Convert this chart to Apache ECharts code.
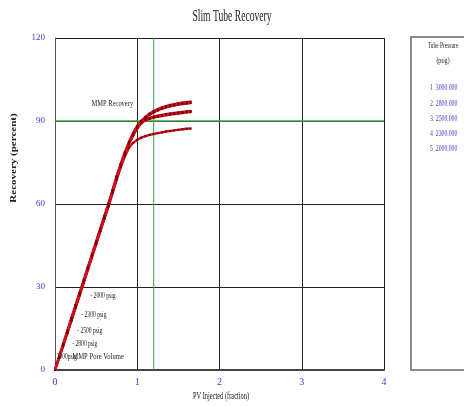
<!DOCTYPE html>
<html>
<head>
<meta charset="utf-8">
<script src="https://cdn.jsdelivr.net/npm/echarts@6/dist/echarts.min.js"></script>
<style>html,body{margin:0;padding:0;background:#fff}#c{width:464px;height:406px}</style>
</head>
<body>
<div id="c"></div>
<script>
// ---------- data ----------
var pvInjected = [0,0.05,0.1,0.15,0.2,0.25,0.3,0.35,0.4,0.45,0.5,0.55,0.6,0.65,0.7,0.75,0.8,0.85,0.9,0.95,1.0,1.05,1.1,1.15,1.2,1.25,1.3,1.35,1.4,1.45,1.5,1.55,1.6,1.65];
var rec3000 = [0,4.8,9.5,14.2,18.9,23.5,28.1,32.7,37.3,41.9,46.5,51.1,55.7,60.2,65.1,70.1,74.7,78.8,82.5,85.7,88.3,90.1,91.5,92.7,93.6,94.3,94.9,95.4,95.8,96.1,96.4,96.6,96.8,97.0];
var rec2800 = [0,4.7,9.3,13.9,18.5,23.1,27.7,32.3,36.9,41.5,46.1,50.7,55.3,59.8,64.8,69.8,74.4,78.5,82.2,85.4,88.0,89.8,91.2,92.3,93.1,93.8,94.4,94.9,95.3,95.6,95.9,96.1,96.3,96.5];
var rec2500 = [0,4.6,9.1,13.7,18.3,22.9,27.5,32.1,36.7,41.3,45.9,50.5,55.1,59.6,64.6,69.5,74.1,78.2,81.9,85.1,87.7,89.5,90.7,91.2,91.6,91.9,92.2,92.5,92.7,92.9,93.1,93.3,93.5,93.6];
var rec2300 = [0,4.4,8.9,13.4,18.0,22.6,27.2,31.8,36.4,41.0,45.6,50.2,54.8,59.3,64.3,69.2,73.8,77.9,81.6,84.7,87.3,89.2,90.3,90.8,91.2,91.5,91.8,92.1,92.3,92.5,92.7,92.9,93.1,93.2];
var rec2000 = [0,4.3,8.7,13.2,17.8,22.4,27.0,31.6,36.2,40.8,45.4,50.0,54.6,59.0,63.9,68.7,73.3,77.2,80.3,82.1,83.2,84.0,84.5,85.0,85.3,85.6,85.9,86.2,86.4,86.6,86.8,87.0,87.2,87.3];
var pressures = ['3000.000','2800.000','2500.000','2300.000','2000.000'];
var seriesNames = ['3000 psig','2800 psig','2500 psig','2300 psig','2000 psig'];
var xTicks = [0,1,2,3,4];
var yTicks = [0,30,60,90,120];
var mmpPV = 1.2;
var mmpRecovery = 90;
// curve annotation anchors (data coords: left edge of text)
var curveLabelText = ['- 2000 psig','- 2300 psig','- 2500 psig','- 2800 psig','3000psig'];
var curveLabelPos = [[0.43,26.7],[0.32,19.9],[0.27,14.1],[0.21,9.4],[0.02,4.7]];
var mmpPoreLabelPos = [0.21,4.9];
var mmpRecLabelPos = [0.95,96.2];

// ---------- chart ----------
var chart = echarts.init(document.getElementById('c'), null, {renderer:'canvas'});
var serif = 'Liberation Serif';
var recSets = [rec3000, rec2800, rec2500, rec2300, rec2000];
var xMin = 0, xMax = 4, yMin = 0, yMax = 120;
function pairs(ys){ return pvInjected.map(function(x,i){return [x, ys[i]];}); }

var green = '#3aa03a';
var series = [
  {name: 'MMP Pore Volume', type: 'line', data: [[mmpPV, yMin], [mmpPV, yMax]], symbol: 'none', silent: true, z: 2,
   lineStyle: {color: green, width: 1}, itemStyle: {color: green}},
  {name: 'MMP Recovery', type: 'line', data: [[xMin, mmpRecovery], [xMax, mmpRecovery]], symbol: 'none', silent: true, z: 2,
   lineStyle: {color: green, width: 1.6}, itemStyle: {color: green}}
];
recSets.forEach(function(ys, i){
  series.push({
    name: seriesNames[i], type: 'line', data: pairs(ys),
    symbol: 'rect', symbolSize: 2, showSymbol: true,
    lineStyle: {color: '#cc1020', width: 2.4},
    itemStyle: {color: '#7a0000'},
    z: 3
  });
});

chart.setOption({
  animation: false,
  backgroundColor: '#fff',
  grid: {left: 55, right: 80, top: 38, bottom: 36, containLabel: false},
  xAxis: {
    type: 'value', min: xMin, max: xMax, interval: 1,
    axisLine: {show: true, lineStyle: {color: '#444', width: 2}},
    axisTick: {show: false},
    splitLine: {show: true, lineStyle: {color: '#222', width: 1}},
    axisLabel: {color: '#3a3ad0', fontFamily: serif, fontSize: 10, margin: 7,
      formatter: function(v){ return xTicks.indexOf(v) >= 0 ? String(v) : ''; }}
  },
  yAxis: {
    type: 'value', min: yMin, max: yMax, interval: 30,
    axisLine: {show: true, lineStyle: {color: '#555', width: 1}},
    axisTick: {show: false},
    splitLine: {show: true, lineStyle: {color: '#222', width: 1}},
    axisLabel: {color: '#3a3ad0', fontFamily: serif, fontSize: 9, margin: 10,
      formatter: function(v){ return yTicks.indexOf(v) >= 0 ? String(v) : ''; }}
  },
  series: series
});

function px(p){ return chart.convertToPixel({gridIndex: 0}, p); }
function txt(x, y, text, o){
  o = o || {};
  return {
    type: 'text', x: x, y: y, rotation: o.rotation || 0,
    scaleX: o.sx || 1, scaleY: o.sy || 1, z: 10, silent: true,
    style: {text: text, fill: o.color || '#222', font: (o.weight || 'normal') + ' ' + (o.size || 10) + 'px "' + serif + '"',
      textAlign: o.align || 'left', textVerticalAlign: 'middle'}
  };
}

var g = [];
// title
g.push(txt(232, 17, 'Slim Tube Recovery', {size: 16, sx: 0.6, align: 'center'}));
// axis names
g.push(txt(221, 396, 'PV Injected (fraction)', {size: 10, sx: 0.64, align: 'center'}));
g.push(txt(14, 158, 'Recovery (percent)', {size: 11, weight: 'bold', sy: 0.7, align: 'center', rotation: Math.PI/2}));
// curve labels
curveLabelText.forEach(function(t, i){
  var p = px(curveLabelPos[i]);
  g.push(txt(p[0], p[1], t, {size: 9, sx: 0.62}));
});
var pp = px(mmpPoreLabelPos);
g.push(txt(pp[0], pp[1], 'MMP Pore Volume', {size: 9, sx: 0.74}));
var pr = px(mmpRecLabelPos);
g.push(txt(pr[0], pr[1], 'MMP Recovery', {size: 9, sx: 0.72, align: 'right'}));
// legend panel
g.push({type: 'rect', shape: {x: 411, y: 37, width: 70, height: 333}, style: {fill: '#fff', stroke: '#8a8a8a', lineWidth: 2}, z: 5, silent: true});
g.push(txt(443, 46, 'Tube Pressure', {size: 9, sx: 0.6, align: 'center'}));
g.push(txt(443, 61, '(psig)', {size: 9, sx: 0.62, align: 'center'}));
pressures.forEach(function(p, i){
  g.push(txt(430, 88 + i * 15.2, (i + 1) + '  ' + p, {size: 9, sx: 0.64, color: '#3a3ad0'}));
});
chart.setOption({graphic: {elements: g}});
</script>
</body>
</html>
